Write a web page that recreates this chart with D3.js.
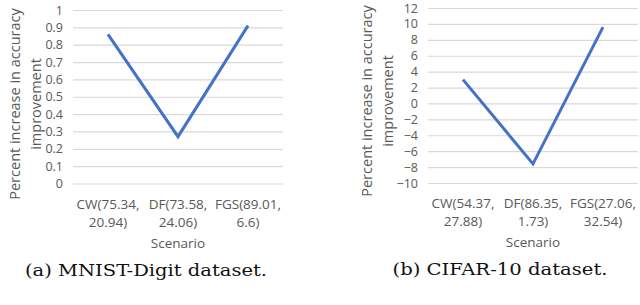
<!DOCTYPE html>
<html>
<head>
<meta charset="utf-8">
<script src="https://cdn.jsdelivr.net/npm/d3@7"></script>
<style>
  body { margin: 0; background: #fff; }
  svg { display: block; }
</style>
</head>
<body>
<div id="chart"></div>
<script>
// categories and values for both panels
const mnistCategories = [["CW(75.34,", "20.94)"], ["DF(73.58,", "24.06)"], ["FGS(89.01,", "6.6)"]];
const mnistValues = [0.86, 0.27, 0.91];
const mnistTicks = [0, 0.1, 0.2, 0.3, 0.4, 0.5, 0.6, 0.7, 0.8, 0.9, 1];

const cifarCategories = [["CW(54.37,", "27.88)"], ["DF(86.35,", "1.73)"], ["FGS(27.06,", "32.54)"]];
const cifarValues = [3.0, -7.6, 9.6];
const cifarTicks = [-10, -8, -6, -4, -2, 0, 2, 4, 6, 8, 10, 12];

const yTitle = ["Percent increase in accuracy", "improvement"];
const xTitle = "Scenario";

const font = "'Open Sans', sans-serif";
const grey = "#595959";

const svg = d3.select("#chart")
    .append("svg")
    .attr("width", 640)
    .attr("height", 305);

function panel(opts) {
    const g = svg.append("g");

    const x = d3.scaleBand()
        .domain(opts.categories.map((d, i) => i))
        .range([opts.left, opts.right]);
    const y = d3.scaleLinear()
        .domain(d3.extent(opts.ticks))
        .range([opts.bottom, opts.top]);

    // gridlines + tick labels
    const yAxis = g.append("g")
        .attr("transform", `translate(${opts.left},0)`)
        .call(d3.axisLeft(y)
            .tickValues(opts.ticks)
            .tickSize(-(opts.right - opts.left))
            .tickPadding(10)
            .tickFormat(d3.format("")));
    yAxis.select(".domain").remove();
    yAxis.selectAll(".tick line")
        .attr("stroke", "#d9d9d9")
        .attr("stroke-width", 1.2);
    yAxis.selectAll(".tick text")
        .attr("fill", grey)
        .style("font-family", font)
        .style("font-size", "12.5px");

    // category labels (two lines)
    const cat = g.append("g");
    opts.categories.forEach((lines, i) => {
        const cx = x(i) + x.bandwidth() / 2;
        const t = cat.append("text")
            .attr("x", cx)
            .attr("y", opts.bottom + 25)
            .attr("text-anchor", "middle")
            .attr("fill", grey)
            .style("font-family", font)
            .style("font-size", "13.5px");
        lines.forEach((s, j) => {
            t.append("tspan")
                .attr("x", cx)
                .attr("dy", j === 0 ? 0 : 18)
                .text(s);
        });
    });

    // x title
    g.append("text")
        .attr("x", (opts.left + opts.right) / 2)
        .attr("y", opts.bottom + 64)
        .attr("text-anchor", "middle")
        .attr("fill", grey)
        .style("font-family", font)
        .style("font-size", "13.5px")
        .text(xTitle);

    // y title, two lines
    yTitle.forEach((s, j) => {
        g.append("text")
            .attr("transform", `translate(${opts.titleX + j * 21},${opts.titleY}) rotate(-90)`)
            .attr("text-anchor", "middle")
            .attr("fill", grey)
            .style("font-family", font)
            .style("font-size", "14.5px")
            .text(s);
    });

    // line
    const line = d3.line()
        .x((d, i) => x(i) + x.bandwidth() / 2)
        .y(d => y(d));
    g.append("path")
        .datum(opts.values)
        .attr("fill", "none")
        .attr("stroke", "#4472c4")
        .attr("stroke-width", 3)
        .attr("stroke-linejoin", "miter")
        .attr("d", line);

    // caption
    g.append("text")
        .attr("x", opts.captionX)
        .attr("y", opts.bottom + 92)
        .attr("text-anchor", "middle")
        .attr("fill", "#111")
        .style("font-family", "'DejaVu Serif', serif")
        .style("font-size", "16.5px")
        .attr("textLength", opts.captionLen)
        .attr("lengthAdjust", "spacingAndGlyphs")
        .text(opts.caption);
}

panel({
    categories: mnistCategories, values: mnistValues, ticks: mnistTicks,
    left: 73, right: 283, top: 10, bottom: 183.5,
    titleX: 20, titleY: 104,
    caption: "(a) MNIST-Digit dataset.", captionX: 146, captionLen: 242
});

panel({
    categories: cifarCategories, values: cifarValues, ticks: cifarTicks,
    left: 428, right: 638, top: 8, bottom: 183,
    titleX: 372, titleY: 101,
    caption: "(b) CIFAR-10 dataset.", captionX: 500, captionLen: 215
});
</script>
</body>
</html>
